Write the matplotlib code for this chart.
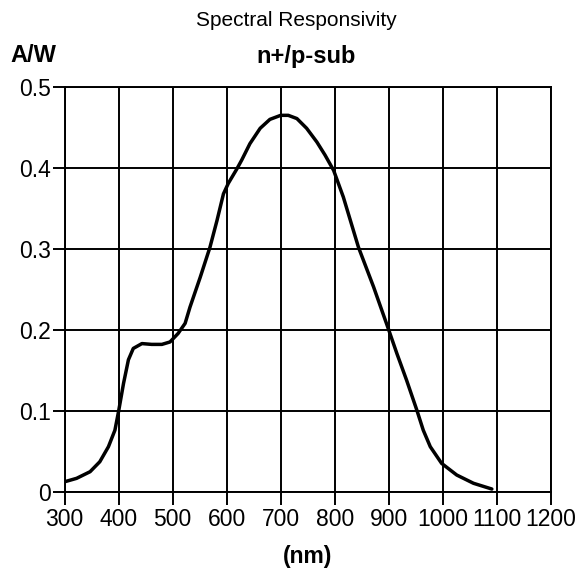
import matplotlib
matplotlib.use("Agg")
import matplotlib.pyplot as plt

wavelength_nm = [300, 322, 347, 365, 381, 393, 400, 409, 418, 427, 443, 461, 480, 495,
                 510, 523, 532, 551, 569, 582, 594, 603, 619, 628, 643, 662, 680, 700,
                 714, 730, 748, 767, 782, 798, 816, 844, 872, 900, 915, 933, 952, 964,
                 977, 998, 1026, 1057, 1091]
responsivity = [0.0123, 0.0165, 0.0247, 0.037, 0.0556, 0.076, 0.100, 0.134, 0.163, 0.177,
                0.183, 0.182, 0.182, 0.185, 0.1955, 0.208, 0.228, 0.265, 0.302, 0.335,
                0.368, 0.381, 0.399, 0.410, 0.430, 0.449, 0.460, 0.465, 0.465, 0.461,
                0.449, 0.432, 0.416, 0.397, 0.364, 0.302, 0.253, 0.200, 0.171, 0.138,
                0.101, 0.076, 0.0556, 0.035, 0.0206, 0.0104, 0.0033]
x_ticks = [300, 400, 500, 600, 700, 800, 900, 1000, 1100, 1200]
y_ticks = [0, 0.1, 0.2, 0.3, 0.4, 0.5]
y_tick_labels = ["0", "0.1", "0.2", "0.3", "0.4", "0.5"]

plt.rcParams['font.family'] = ['Liberation Sans', 'DejaVu Sans']

W, H = 577, 570
fig = plt.figure(figsize=(W / 100, H / 100), dpi=100)
left, right, top, bottom = 64.7, 550.7, 87.0, 491.7
ax = fig.add_axes([left / W, 1 - bottom / H, (right - left) / W, (bottom - top) / H])

ax.plot(wavelength_nm, responsivity, color='black', lw=2.5, solid_capstyle='round',
        solid_joinstyle='round', zorder=3)
ax.set_xlim(300, 1200)
ax.set_ylim(0, 0.5)
ax.set_xticks(x_ticks)
ax.set_yticks(y_ticks)
ax.set_yticklabels(y_tick_labels)
ax.grid(True, color='black', lw=1.4)
for s in ax.spines.values():
    s.set_linewidth(1.4)
ax.tick_params(direction='out', length=9, width=1.4, labelsize=16.5, colors='black')
ax.tick_params(axis='y', pad=1)
ax.tick_params(axis='x', pad=3)

fig.text(296 / W, 1 - 21 / H, "Spectral Responsivity", ha='center', va='center', fontsize=15)
fig.text(306 / W, 1 - 56 / H, "n+/p-sub", ha='center', va='center', fontsize=17, fontweight='bold')
fig.text(10 / W, 1 - 56 / H, "A/W", ha='left', va='center', fontsize=17, fontweight='bold')
fig.text(308 / W, 1 - 556 / H, "(nm)", ha='center', va='center', fontsize=16.5, fontweight='bold')

fig.savefig("out.png", dpi=100)
